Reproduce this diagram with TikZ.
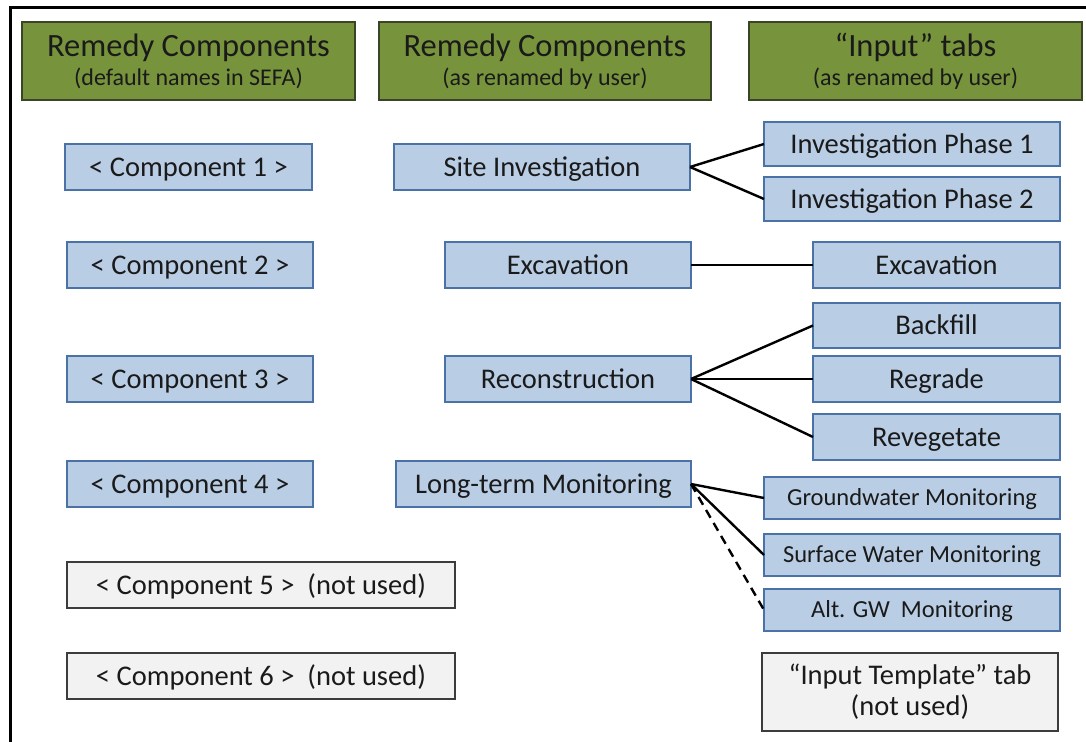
\documentclass[tikz,border=0pt]{standalone}
\usepackage{fontspec}
\setmainfont{Carlito}
\definecolor{hdrgreen}{HTML}{77933C}
\definecolor{hdrline}{HTML}{3A4428}
\definecolor{bluefill}{HTML}{B9CDE5}
\definecolor{blueline}{HTML}{4A72A6}
\definecolor{grayfill}{HTML}{F2F2F2}
\definecolor{grayline}{HTML}{3C3C3C}
\definecolor{txt}{HTML}{1A1A1A}
\begin{document}
\begin{tikzpicture}[x=1pt,y=-1pt,
  box/.style={draw, line width=1.8pt, inner sep=0pt, outer sep=0pt, text=txt},
  bigtxt/.style={font=\fontsize{28.5}{31}\selectfont, text height=21.4pt, text depth=2.9pt},
  smalltxt/.style={font=\fontsize{24.5}{28}\selectfont, text height=18.5pt, text depth=2.7pt},
  hdr/.style={draw=hdrline, fill=hdrgreen, line width=1.8pt, inner sep=0pt, outer sep=0pt},
  bluebox/.style={box, fill=bluefill, draw=blueline},
  graybox/.style={box, fill=grayfill, draw=grayline},
  title/.style={anchor=base, text=txt, inner sep=0pt, font=\fontsize{32.5}{34}\selectfont},
  subtitle/.style={anchor=base, text=txt, inner sep=0pt, font=\fontsize{24}{26}\selectfont},
  link/.style={line width=2.4pt, black},
  dlink/.style={link, dashed, dash pattern=on 9pt off 6pt}
]
\useasboundingbox (0,0) rectangle (1086,741);
% frame
\draw[line width=3pt, black] (10,745) -- (10,8) -- (1090,8);

% headers
\node[hdr, minimum width=333, minimum height=78] (h1) at (188.5,61) {};
\node[hdr, minimum width=332, minimum height=78] (h2) at (545,61) {};
\node[hdr, minimum width=333, minimum height=78] (h3) at (915.5,61) {};
\node[title] (t1) at (188.5,57) {Remedy Components};
\node[subtitle] (s1) at (188.5,86) {(default names in SEFA)};
\node[title] (t2) at (545,57) {Remedy Components};
\node[subtitle] (s2) at (545,86) {(as renamed by user)};
\node[title] (t3) at (915.5,57) {“Input” tabs};
\node[subtitle] (s3) at (915.5,86) {(as renamed by user)};

% column 1
\node[bluebox, bigtxt, minimum width=247, minimum height=46] (c1) at (188.5,167) {< Component 1 >};
\node[bluebox, bigtxt, minimum width=246, minimum height=46] (c2) at (190,265) {< Component 2 >};
\node[bluebox, bigtxt, minimum width=246, minimum height=46] (c3) at (190,379) {< Component 3 >};
\node[bluebox, bigtxt, minimum width=246, minimum height=46] (c4) at (190,484) {< Component 4 >};
\node[graybox, bigtxt, minimum width=388, minimum height=46] (c5) at (261,585) {< Component 5 >\ \ (not used)};
\node[graybox, bigtxt, minimum width=388, minimum height=46] (c6) at (261,676) {< Component 6 >\ \ (not used)};

% column 2
\node[bluebox, bigtxt, minimum width=296, minimum height=46] (site) at (542,167) {Site Investigation};
\node[bluebox, bigtxt, minimum width=246, minimum height=46] (exc) at (568,265) {Excavation};
\node[bluebox, bigtxt, minimum width=246, minimum height=46] (rec) at (568,379) {Reconstruction};
\node[bluebox, bigtxt, minimum width=295, minimum height=46] (ltm) at (543.5,484) {Long-term Monitoring};

% column 3
\node[bluebox, bigtxt, minimum width=296, minimum height=44] (ip1) at (912,144) {Investigation Phase 1};
\node[bluebox, bigtxt, minimum width=296, minimum height=44] (ip2) at (912,199) {Investigation Phase 2};
\node[bluebox, bigtxt, minimum width=247, minimum height=46] (exc2) at (936.5,265) {Excavation};
\node[bluebox, bigtxt, minimum width=247, minimum height=45] (bf) at (936.5,325.5) {Backfill};
\node[bluebox, bigtxt, minimum width=247, minimum height=46] (rg) at (936.5,379) {Regrade};
\node[bluebox, bigtxt, minimum width=247, minimum height=46] (rv) at (936.5,437) {Revegetate};
\node[bluebox, smalltxt, minimum width=296, minimum height=42] (gw) at (912,498) {Groundwater Monitoring};
\node[bluebox, smalltxt, minimum width=296, minimum height=42] (sw) at (912,555) {Surface Water Monitoring};
\node[bluebox, smalltxt, minimum width=296, minimum height=42] (alt) at (912,610) {Alt. GW\ \ Monitoring};
\node[graybox, font=\fontsize{28.5}{31}\selectfont, align=center, minimum width=296, minimum height=78] (tpl) at (910,692) {“Input Template” tab\\(not used)};

% connectors
\draw[link] (site.east) -- (ip1.west);
\draw[link] (site.east) -- (ip2.west);
\draw[link] (exc.east) -- (exc2.west);
\draw[link] (rec.east) -- (bf.west);
\draw[link] (rec.east) -- (rg.west);
\draw[link] (rec.east) -- (rv.west);
\draw[link] (ltm.east) -- (gw.west);
\draw[link] (ltm.east) -- (sw.west);
\draw[dlink] (ltm.east) -- (alt.west);
\end{tikzpicture}
\end{document}
